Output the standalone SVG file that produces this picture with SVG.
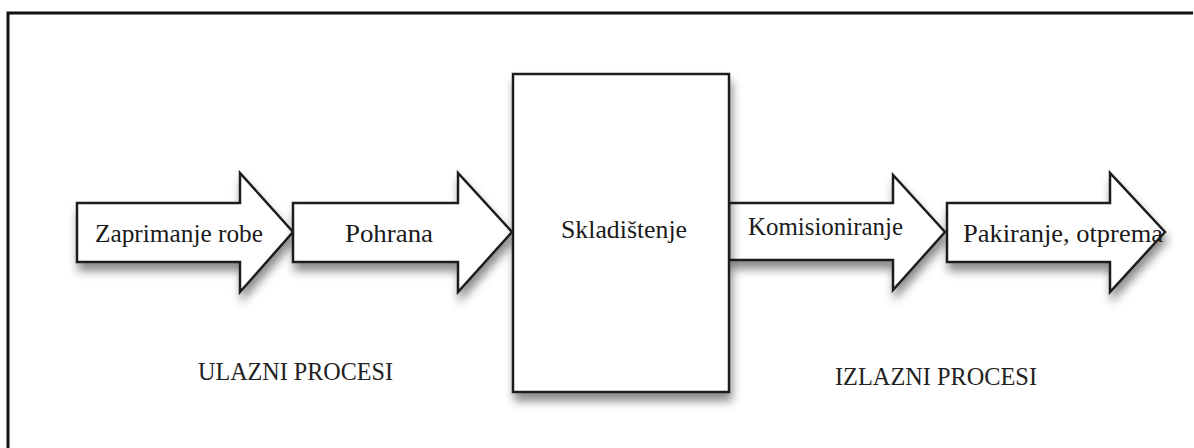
<svg xmlns="http://www.w3.org/2000/svg" width="1194" height="448" viewBox="0 0 1194 448">
<style>
.shape{fill:#fff;stroke:#1e1e1e;stroke-width:2.5;stroke-linejoin:miter;filter:url(#sh)}
.lbl{font-family:"Liberation Serif","Times New Roman",serif;font-size:26px;fill:#1a1a1a}
.cap{font-family:"Liberation Serif","Times New Roman",serif;font-size:25px;fill:#222}
</style>
<defs>
<filter id="sh" x="-20%" y="-20%" width="140%" height="160%">
<feDropShadow dx="2" dy="8" stdDeviation="5" flood-color="#000" flood-opacity="0.45"/>
</filter>
</defs>
<rect width="1194" height="448" fill="#fff"/>
<path d="M8 448 V13 H1193" fill="none" stroke="#111" stroke-width="3"/>
<g id="connectors"></g>
<g id="n1">
<path class="shape" d="M77 203 H240 V173 L293 232 L240 292 V262 H77 Z"/>
<text class="lbl" x="95" y="242" textLength="168" lengthAdjust="spacingAndGlyphs">Zaprimanje robe</text>
</g>
<g id="n2">
<path class="shape" d="M293 203 H458 V173 L512 232 L458 292 V262 H293 Z"/>
<text class="lbl" x="345" y="242" textLength="88" lengthAdjust="spacingAndGlyphs">Pohrana</text>
</g>
<g id="n4">
<path class="shape" d="M729 203 H893 V175 L945 232 L893 290 V260 H729 Z"/>
<text class="lbl" x="748" y="235" textLength="155" lengthAdjust="spacingAndGlyphs">Komisioniranje</text>
</g>
<g id="n5">
<path class="shape" d="M947 203 H1110 V173 L1165 232 L1110 292 V262 H947 Z"/>
<text class="lbl" x="963" y="242" textLength="200" lengthAdjust="spacingAndGlyphs">Pakiranje, otprema</text>
</g>
<g id="n3">
<rect class="shape" x="513" y="74" width="216" height="318"/>
<text class="lbl" x="561" y="238" textLength="126" lengthAdjust="spacingAndGlyphs">Skladištenje</text>
</g>
<g id="labels">
<text class="cap" x="198" y="380" textLength="195" lengthAdjust="spacingAndGlyphs">ULAZNI PROCESI</text>
<text class="cap" x="835" y="385" textLength="202" lengthAdjust="spacingAndGlyphs">IZLAZNI PROCESI</text>
</g>
</svg>
